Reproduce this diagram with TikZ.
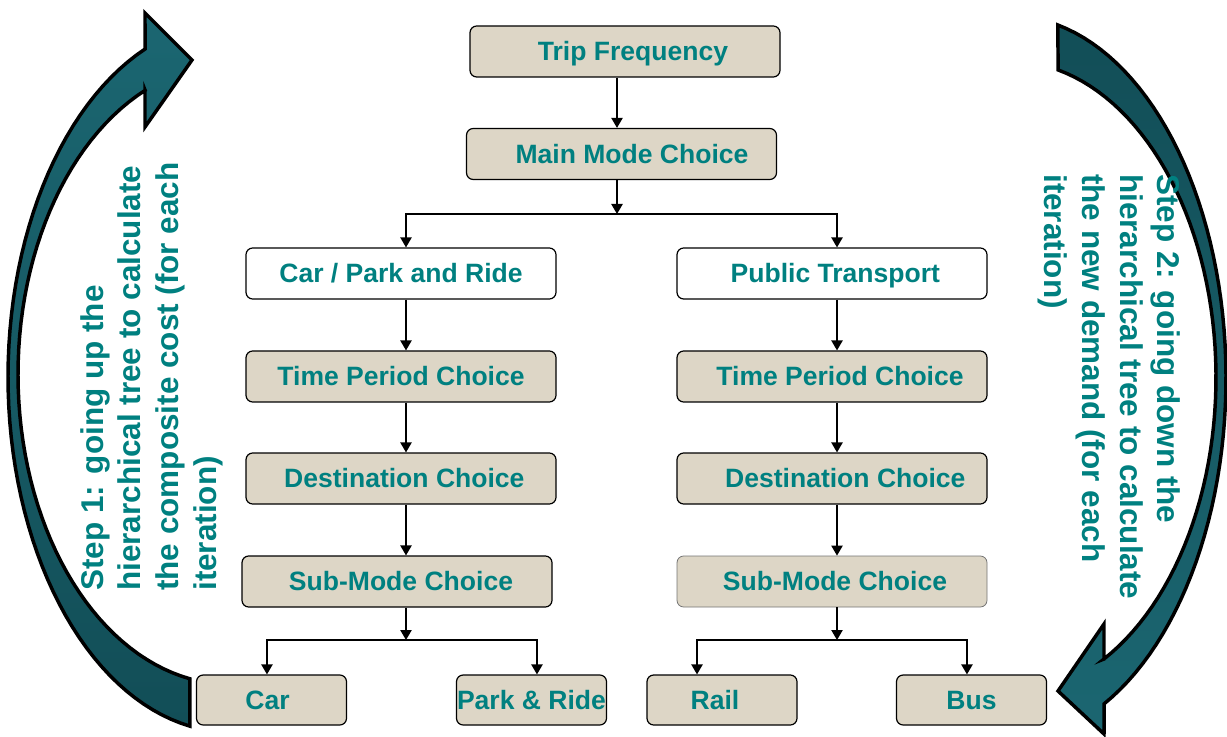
\documentclass[tikz,border=0pt]{standalone}
\usepackage{fontspec}
\setmainfont{Liberation Sans}
\usetikzlibrary{arrows.meta}
\usetikzlibrary{positioning}
\definecolor{boxtan}{RGB}{221,214,198}
\definecolor{tealtext}{RGB}{0,128,128}
\definecolor{loopdark}{RGB}{18,78,87}
\definecolor{looplight}{RGB}{27,102,113}
\tikzset{choice/.style = {draw, line width=0.9pt, rounded corners=5pt, fill=boxtan,
                          text=tealtext, font=\bfseries\fontsize{19.9}{24}\selectfont,
                          minimum width=232.5pt, minimum height=38.25pt,
                          text height=14.2pt, text depth=0pt, inner sep=0pt}}
\tikzset{branch/.style = {choice, fill=white}}
\tikzset{leaf/.style = {choice, minimum width=112.5pt, minimum height=37.5pt}}
\tikzset{nudge/.style = {execute at begin node={\hspace*{#1}}}}
\tikzset{flow/.style = {-{Triangle[length=7.5pt,width=8.5pt]}, line width=1pt}}
\tikzset{steptext/.style = {text=tealtext, font=\bfseries\fontsize{23.6}{28.3}\selectfont,
                            align=left, inner sep=0pt, anchor=north west}}
\tikzset{loop arrow/.style = {draw=black, line width=2.6pt, line join=miter}}

\begin{document}
\begin{tikzpicture}[x=0.75pt,y=0.75pt]
	\useasboundingbox (0,0) rectangle (1227,736);
	% curved arrows
	\draw[loop arrow, top color=looplight, bottom color=loopdark]
		plot[domain=259.6:112.5, samples=60] ({230+222*cos(\x)}, {359+355*sin(\x)})
		-- (145,723) -- (192,676) -- (145,609) -- (145,646)
		-- plot[domain=113.6:259.1, samples=60] ({230+212*cos(\x)}, {361.6+310*sin(\x)})
		-- cycle;
	\draw[loop arrow, top color=loopdark, bottom color=looplight]
		plot[domain=77.2:-64.2, samples=60] ({1010+216*cos(\x)}, {358+362*sin(\x)})
		-- (1104,2) -- (1058,45) -- (1104,112) -- (1104,77)
		-- plot[domain=-62.9:76.5, samples=60] ({1010+206*cos(\x)}, {358.5+316.3*sin(\x)})
		-- cycle;
	\node[steptext, rotate=90] (stepup) at (80,145) {Step 1: going up the\\hierarchical tree to calculate\\the composite cost (for each\\iteration)};
	\node[steptext, rotate=-90] (stepdown) at (1181,562) {Step 2: going down the\\hierarchical tree to calculate\\the new demand (for each\\iteration)};
	% tree
	\node[choice, nudge=12pt] (trip) at (625,684.5) {Trip Frequency};
	\node[choice, nudge=15.75pt] (main) at (621.5,582) {Main Mode Choice};
	\node[branch] (carpr) at (401,462.5) {Car / Park and Ride};
	\node[branch, nudge=5pt] (pubtr) at (832,462.5) {Public Transport};
	\node[choice] (timel) at (401,359.5) {Time Period Choice};
	\node[choice, nudge=12pt] (timer) at (832,359.5) {Time Period Choice};
	\node[choice, nudge=5pt] (destl) at (401,257.5) {Destination Choice};
	\node[choice, nudge=20pt] (destr) at (832,257.5) {Destination Choice};
	\node[choice, nudge=6pt] (subl) at (397,154.5) {Sub-Mode Choice};
	\node[choice, nudge=4.5pt, draw=black!55, line width=0.6pt] (subr) at (832,154.5) {Sub-Mode Choice};
	\node[leaf, nudge=-6pt] (car) at (271.5,36) {Car};
	\node[leaf] (parkride) at (531.5,36) {Park \& Ride};
	\node[leaf, nudge=-10.5pt] (rail) at (722,36) {Rail};
	\node[leaf] (bus) at (971.5,36) {Bus};
	\coordinate (modesplit) at (617,522);
	\coordinate (carsplit) at (406,96);
	\coordinate (ptsplit) at (837,96);
	\draw[flow] (trip.south -| modesplit) -- (main.north -| modesplit);
	\draw[flow] (main.south -| modesplit) -- (modesplit);
	\draw[flow] (modesplit) -| (carpr.north -| carsplit);
	\draw[flow] (modesplit) -| (pubtr.north -| ptsplit);
	\foreach \a/\b in {carpr/timel, timel/destl, destl/subl}
		\draw[flow] (\a.south -| carsplit) -- (\b.north -| carsplit);
	\foreach \a/\b in {pubtr/timer, timer/destr, destr/subr}
		\draw[flow] (\a.south -| ptsplit) -- (\b.north -| ptsplit);
	\draw[flow] (subl.south -| carsplit) -- (carsplit);
	\draw[flow] (carsplit) -| ([xshift=-3.4pt]car.north);
	\draw[flow] (carsplit) -| ([xshift=4.1pt]parkride.north);
	\draw[flow] (subr.south -| ptsplit) -- (ptsplit);
	\draw[flow] (ptsplit) -| ([xshift=-18.75pt]rail.north);
	\draw[flow] (ptsplit) -| ([xshift=-3.4pt]bus.north);
\end{tikzpicture}
\end{document}
